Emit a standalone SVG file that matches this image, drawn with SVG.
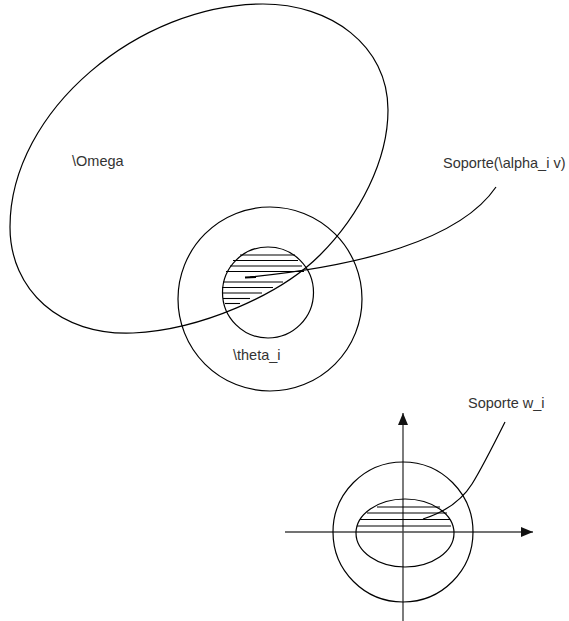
<svg xmlns="http://www.w3.org/2000/svg" width="569" height="621" viewBox="0 0 569 621">
<defs>
<style>
.s{fill:none;stroke:#000;stroke-width:1.2}
.h{fill:none;stroke:#000;stroke-width:1.1}
.ax{fill:none;stroke:#444;stroke-width:1.4}
.t{font-family:"Liberation Sans",Arial,sans-serif;font-size:14.5px;fill:#333}
</style>
<marker id="arr" viewBox="0 0 12 10" refX="12" refY="5" markerWidth="12" markerHeight="10" markerUnits="userSpaceOnUse" orient="auto">
<path d="M0,0 L12,5 L0,10 Z" fill="#111"/>
</marker>
</defs>
<rect width="569" height="621" fill="#fff"/>
<g id="omega">
<path class="s" d="M263,4 C330,4 388,45 388,110 C388,160 360,215 320,255 C280,295 200,330 133,333 C60,336 10,290 10,227 C10,110 140,4 263,4 Z"/>
<text class="t" x="72" y="166">\Omega</text>
</g>
<g id="theta_i">
<circle class="s" cx="270" cy="299" r="92"/>
<text class="t" x="233" y="360">\theta_i</text>
</g>
<g id="support_alpha">
<circle class="s" cx="268" cy="292.5" r="45.5"/>
<g class="h">
<line x1="240" y1="255" x2="295" y2="255"/>
<line x1="233" y1="260.5" x2="298" y2="260.5"/>
<line x1="230" y1="266" x2="302" y2="266"/>
<line x1="226" y1="271.5" x2="304" y2="271.5"/>
<line x1="223" y1="282" x2="283" y2="282"/>
<line x1="222" y1="287.5" x2="273" y2="287.5"/>
<line x1="222" y1="293" x2="262" y2="293"/>
<line x1="223" y1="298.5" x2="250" y2="298.5"/>
<line x1="225" y1="303.5" x2="240" y2="303.5"/>
</g>
<text class="t" x="443" y="168">Soporte(\alpha_i v)</text>
</g>
<g id="axes">
<line class="ax" x1="403" y1="621" x2="403" y2="413" marker-end="url(#arr)"/>
<line class="ax" x1="285" y1="532" x2="533" y2="532" marker-end="url(#arr)"/>
</g>
<g id="outer_w">
<circle class="s" cx="403" cy="532" r="70"/>
</g>
<g id="support_w">
<ellipse class="s" cx="405" cy="533" rx="49" ry="34"/>
<g class="h">
<line x1="377" y1="507" x2="440" y2="507"/>
<line x1="367" y1="513" x2="447" y2="513"/>
<line x1="360" y1="519.5" x2="450" y2="519.5"/>
<line x1="357" y1="526" x2="451" y2="526"/>
</g>
<text class="t" x="468" y="408">Soporte w_i</text>
</g>
<g id="connectors">
<path class="s" d="M250,277 C360,266 460,240 496,187"/>
<line x1="245" y1="277.5" x2="256" y2="277" stroke="#000" stroke-width="2"/>
<path class="s" d="M423,519 C445,512 462,500 472,484 C482,468 492,448 505,422"/>
</g>
</svg>
